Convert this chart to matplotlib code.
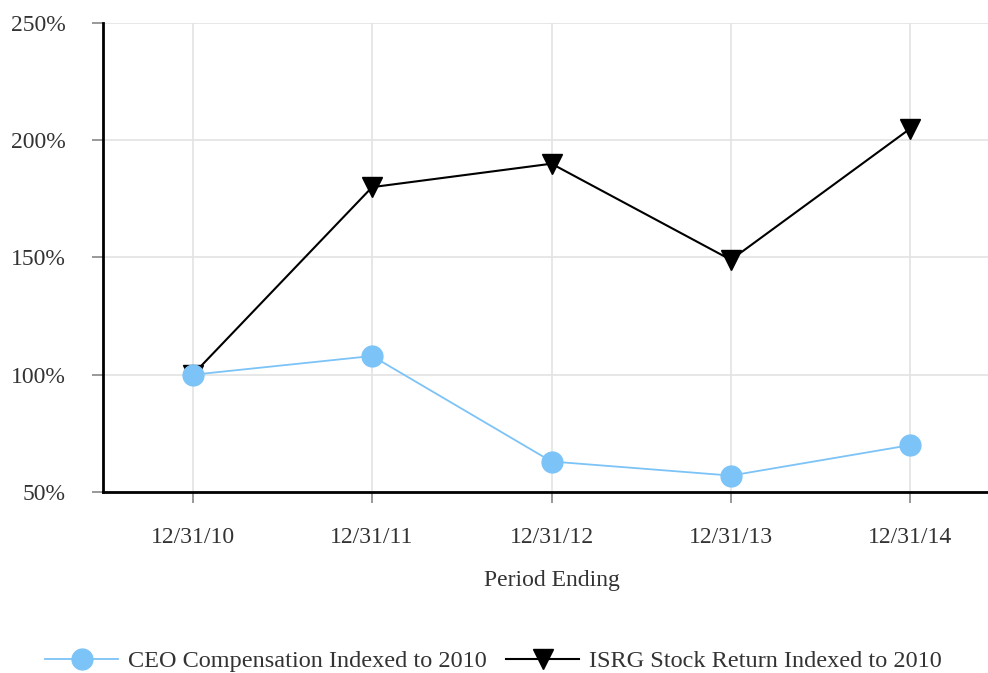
import matplotlib.pyplot as plt
from matplotlib.ticker import FuncFormatter

periods = ["12/31/10", "12/31/11", "12/31/12", "12/31/13", "12/31/14"]
ceo_comp = [100, 108, 63, 57, 70]
isrg_return = [100, 180, 190, 149, 205]
y_ticks = [50, 100, 150, 200, 250]

plt.rcParams["font.family"] = ["Liberation Serif", "DejaVu Serif"]

fig = plt.figure(figsize=(9.88, 6.73), dpi=100)
ax = fig.add_axes([103 / 988, 1 - 492 / 673, 897 / 988, 469 / 673])

x = range(len(periods))
ax.plot(x, isrg_return, color="black", lw=1.5, marker="v", ms=14,
        label="ISRG Stock Return Indexed to 2010", zorder=3)
ax.plot(x, ceo_comp, color="#7cc3f7", lw=1.3, marker="o", ms=15,
        label="CEO Compensation Indexed to 2010", zorder=4)

ax.set_xlim(-0.5, 4.5)
ax.set_ylim(50, 250)
ax.set_xticks(list(x))
ax.set_xticklabels(periods)
ax.set_yticks(y_ticks)
ax.yaxis.set_major_formatter(FuncFormatter(lambda v, _: f"{v:.0f}%"))

ax.grid(True, color="#e3e3e3", lw=1.2)
ax.set_axisbelow(True)
for s in ["top", "right"]:
    ax.spines[s].set_visible(False)
ax.spines["left"].set_linewidth(2)
ax.spines["bottom"].set_linewidth(2)
ax.tick_params(axis="both", colors="#888888", labelcolor="#333333",
               labelsize=17, length=8, width=1.2)
ax.tick_params(axis="x", pad=17)
ax.tick_params(axis="y", pad=19)

ax.set_xlabel("Period Ending", fontsize=17, color="#333333", labelpad=16)

# legend order: CEO first
handles, labels = ax.get_legend_handles_labels()
fig.legend(handles[::-1], labels[::-1], loc="center",
           bbox_to_anchor=(0.4995, 1 - 661 / 673), ncol=2,
           frameon=False, fontsize=17.5, handlelength=3.0, handletextpad=0.4,
           columnspacing=0.8, labelcolor="#333333")

fig.savefig("out.png", dpi=100)
